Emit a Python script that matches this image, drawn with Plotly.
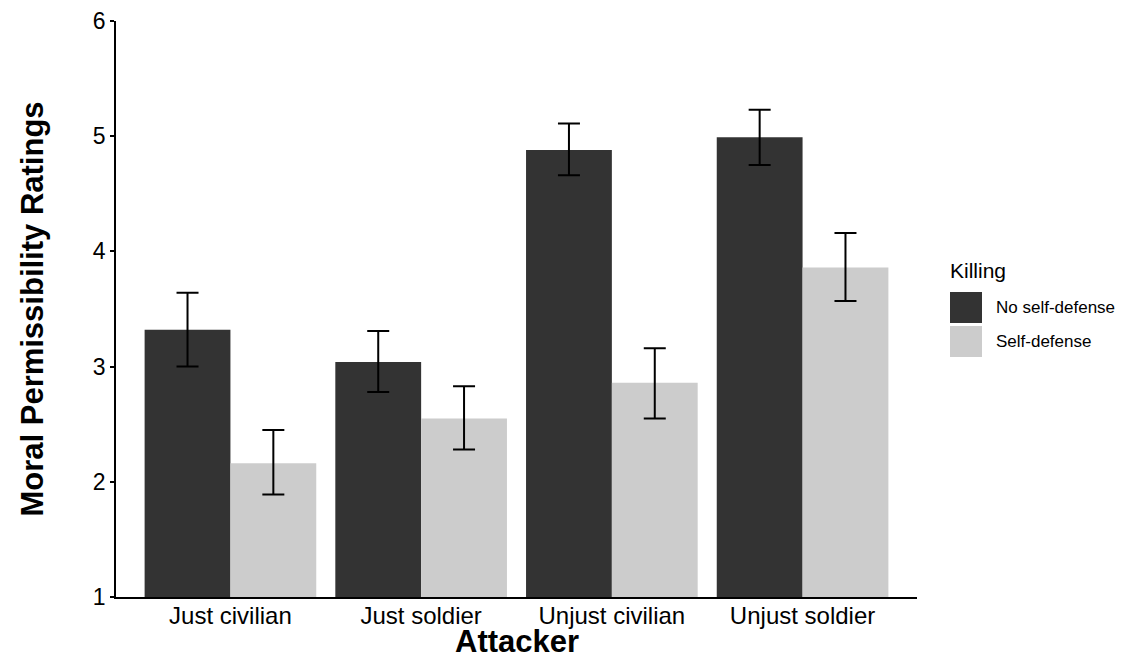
import plotly.graph_objects as go

categories = ["Just civilian", "Just soldier", "Unjust civilian", "Unjust soldier"]
no_sd = [3.32, 3.04, 4.88, 4.99]
no_sd_hi = [3.64, 3.31, 5.11, 5.23]
no_sd_lo = [3.00, 2.78, 4.66, 4.75]
sd = [2.16, 2.55, 2.86, 3.86]
sd_hi = [2.45, 2.83, 3.16, 4.16]
sd_lo = [1.89, 2.28, 2.55, 3.57]
y_ticks = [1, 2, 3, 4, 5, 6]
series_names = ["No self-defense", "Self-defense"]
series_colors = ["#333333", "#cccccc"]
legend_title = "Killing"

FONT = "Liberation Sans, Arial, sans-serif"

def err(vals, hi, lo):
    return dict(type="data", symmetric=False,
                array=[h - v for h, v in zip(hi, vals)],
                arrayminus=[v - l for v, l in zip(vals, lo)],
                color="black", thickness=2, width=11)

fig = go.Figure()
for name, color, vals, hi, lo in [(series_names[0], series_colors[0], no_sd, no_sd_hi, no_sd_lo),
                                  (series_names[1], series_colors[1], sd, sd_hi, sd_lo)]:
    fig.add_trace(go.Bar(name=name, x=categories, y=[v - 1 for v in vals], base=1,
                         marker=dict(color=color, line=dict(width=0)),
                         error_y=err(vals, hi, lo), showlegend=False))

# Custom legend (ggplot-style large keys)
W, H, L, B = 801, 576, 116, 597
def px(xp):
    return (xp - L) / W
def py(yp):
    return (B - yp) / H

shapes = []
annotations = [dict(text=legend_title, x=px(948), y=py(270), xref="paper", yref="paper",
                    xanchor="left", yanchor="middle", showarrow=False,
                    font=dict(size=21, family=FONT, color="black"))]
key_tops = [292, 326]
for i, (name, color) in enumerate(zip(series_names, series_colors)):
    t = key_tops[i]
    shapes.append(dict(type="rect", xref="paper", yref="paper",
                       x0=px(950), x1=px(982), y0=py(t), y1=py(t + 31),
                       fillcolor=color, line=dict(width=0)))
    annotations.append(dict(text=name, x=px(994), y=py(t + 15.5), xref="paper", yref="paper",
                            xanchor="left", yanchor="middle", showarrow=False,
                            font=dict(size=17, family=FONT, color="black")))

# x-axis title as annotation for exact placement
annotations.append(dict(text="<b>Attacker</b>", x=0.5, y=py(641), xref="paper", yref="paper",
                        xanchor="center", yanchor="middle", showarrow=False, borderpad=0,
                        font=dict(size=31, family=FONT, color="black")))

fig.update_layout(
    width=1121, height=659,
    margin=dict(l=116, r=204, t=21, b=62),
    paper_bgcolor="white", plot_bgcolor="white",
    barmode="group", bargap=0.1, bargroupgap=0,
    font=dict(family=FONT, color="black"),
    showlegend=False,
    shapes=shapes, annotations=annotations,
    xaxis=dict(range=[-0.6, 3.6], showline=True, linecolor="black", linewidth=1.5,
               ticks="", tickfont=dict(size=24, color="black"), automargin=False,
               ticklabelstandoff=-4,
               showgrid=False, zeroline=False),
    yaxis=dict(range=[1, 6], tickvals=y_ticks, showline=True, linecolor="black", linewidth=1.5,
               ticks="outside", ticklen=4, tickcolor="black", tickwidth=1.5,
               tickfont=dict(size=23, color="black"), automargin=False,
               title=dict(text="<b>Moral Permissibility Ratings</b>", font=dict(size=31), standoff=40),
               showgrid=False, zeroline=False),
)

fig.write_html("out.html")
